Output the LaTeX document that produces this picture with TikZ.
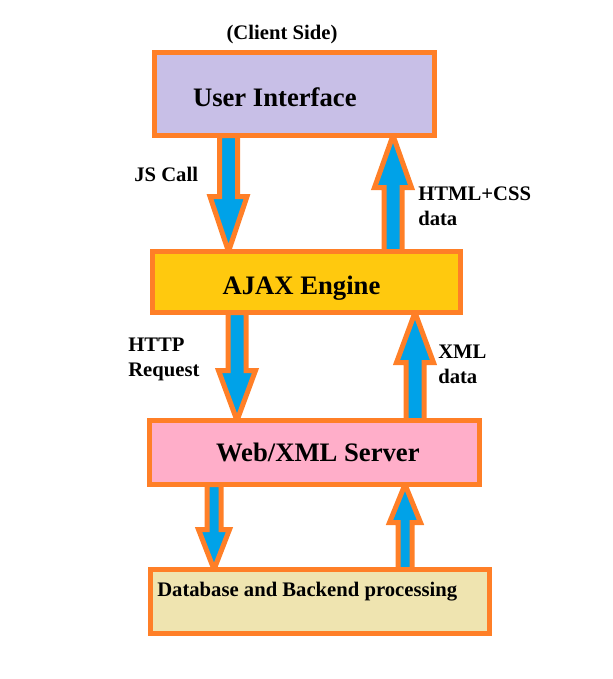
\documentclass[tikz,border=0pt]{standalone}
\usepackage{fontspec}
\setmainfont{Liberation Serif}
\usetikzlibrary{calc,backgrounds}
\definecolor{paintorange}{HTML}{FF7F27}
\definecolor{paintblue}{HTML}{00A2E8}
\definecolor{uifill}{HTML}{C8BFE7}
\definecolor{ajaxfill}{HTML}{FFC90E}
\definecolor{webfill}{HTML}{FFAEC9}
\definecolor{dbfill}{HTML}{EFE4B0}
% block arrow: (tail)(tip){shaft half width}{head half width}{signed head length}
\def\blockarrow(#1)(#2)#3#4#5{\draw[barrow] ($(#1)+(-#3,0)$) -- ($(#2)+(-#3,#5)$) -- ($(#2)+(-#4,#5)$) -- (#2) -- ($(#2)+(#4,#5)$) -- ($(#2)+(#3,#5)$) -- ($(#1)+(#3,0)$) -- cycle;}

\begin{document}
\begin{tikzpicture}[x=0.75pt, y=-0.75pt,
	box/.style={draw=paintorange, line width=3.75pt, outer sep=0pt, inner sep=0pt,
		font=\bfseries\fontsize{20}{24}\selectfont},
	lbl/.style={anchor=west, inner sep=0pt, align=left,
		font=\bfseries\fontsize{15.5}{18.5}\selectfont},
	barrow/.style={draw=paintorange, fill=paintblue, line width=3.75pt}]
		\useasboundingbox (0,0) rectangle (613,679);
		%%%%% BOXES %%%%%
		\node[box, fill=uifill, minimum width=210pt, minimum height=62.25pt] (ui) at (294.5,94) {};
		\node[box, fill=ajaxfill, minimum width=231pt, minimum height=45.75pt] (ajax) at (306.5,282) {\raisebox{-4.5pt}[\height][\depth]{AJAX Engine\hspace*{7.5pt}}};
		\node[box, fill=webfill, minimum width=247.5pt, minimum height=48pt] (web) at (314.5,452.5) {\hspace*{5pt}Web/XML Server};
		\node[box, fill=dbfill, minimum width=254.25pt, minimum height=48pt] (db) at (320,601.5) {};
		
		\node[box, draw=none, anchor=west] (uitext) at (193,97) {User Interface};
		\node[lbl] (dbtext) at (157,592) {Database and Backend processing};
		\node[lbl, anchor=center] (client) at (282,35) {(Client Side)};
		
		%%%%% LABELS %%%%%
		\node[lbl] (jscall) at (134,174) {JS Call};
		\node[lbl] (htmldata) at (418,206) {HTML+CSS\\data};
		\node[lbl] (httpreq) at (128,359.5) {HTTP\\Request};
		\node[lbl] (xmldata) at (438,364.5) {XML\\data};
		
		%%%%% ARROWS %%%%%
		\coordinate (jsx) at (228.5,0);
		\coordinate (htmlx) at (393,0);
		\coordinate (httpx) at (237,0);
		\coordinate (xmlx) at (415,0);
		\coordinate (dbdownx) at (214,0);
		\coordinate (dbupx) at (405,0);
		\begin{scope}[on background layer]
			\blockarrow(ui.south -| jsx)(ajax.north -| jsx){9}{18.5}{-55}
			\blockarrow(ajax.north -| htmlx)(ui.south -| htmlx){9}{18.5}{52}
			\blockarrow(ajax.south -| httpx)(web.north -| httpx){9}{18.5}{-50}
			\blockarrow(web.north -| xmlx)(ajax.south -| xmlx){9}{18.5}{50}
			\blockarrow(web.south -| dbdownx)(db.north -| dbdownx){7}{15.5}{-40}
			\blockarrow(db.north -| dbupx)(web.south -| dbupx){7}{15.5}{38}
		\end{scope}
	\end{tikzpicture}
\end{document}
